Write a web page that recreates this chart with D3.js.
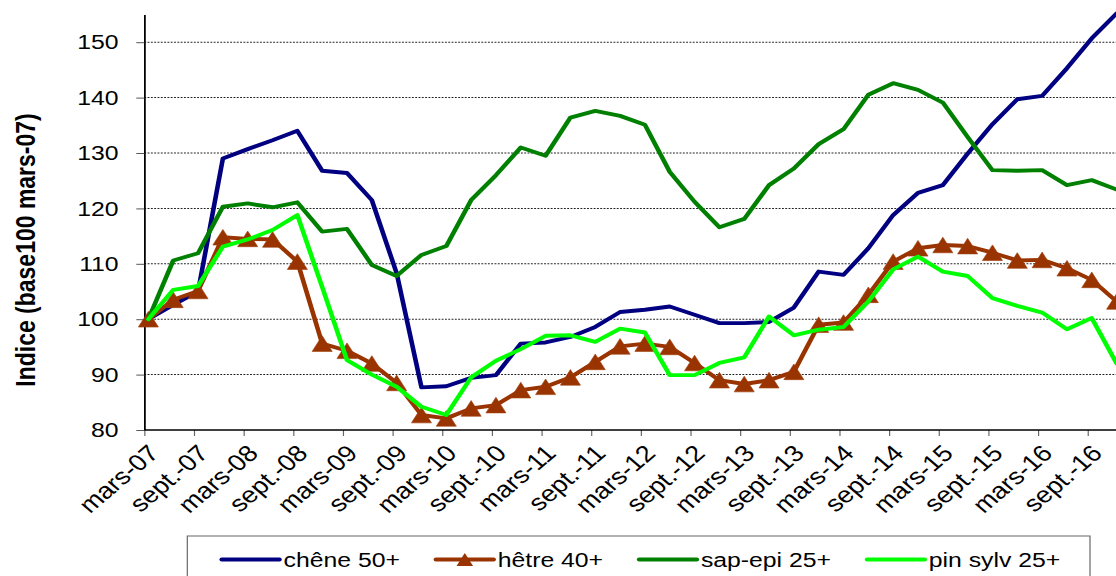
<!DOCTYPE html>
<html>
<head>
<meta charset="utf-8">
<script src="https://cdn.jsdelivr.net/npm/d3@7"></script>
<style>
body { margin: 0; background: #fff; }
svg { display: block; font-family: "Liberation Sans", Arial, sans-serif; }
</style>
</head>
<body>
<svg id="chart" width="1116" height="576"></svg>
<script>
// trimestres, base 100 en mars-07
var periodes = ["mars-07","juin-07","sept.-07","déc.-07","mars-08","juin-08","sept.-08","déc.-08",
  "mars-09","juin-09","sept.-09","déc.-09","mars-10","juin-10","sept.-10","déc.-10",
  "mars-11","juin-11","sept.-11","déc.-11","mars-12","juin-12","sept.-12","déc.-12",
  "mars-13","juin-13","sept.-13","déc.-13","mars-14","juin-14","sept.-14","déc.-14",
  "mars-15","juin-15","sept.-15","déc.-15","mars-16","juin-16","sept.-16","déc.-16"];

var tickLabels = ["mars-07","sept.-07","mars-08","sept.-08","mars-09","sept.-09","mars-10","sept.-10",
  "mars-11","sept.-11","mars-12","sept.-12","mars-13","sept.-13","mars-14","sept.-14",
  "mars-15","sept.-15","mars-16","sept.-16"];

var yTicks = [80, 90, 100, 110, 120, 130, 140, 150];

var chene = [100, 102.6, 105, 129, 130.7, 132.3, 134, 126.8, 126.4, 121.5,
  108.3, 87.7, 87.9, 89.4, 89.9, 95.6, 95.8, 96.8, 98.6, 101.3,
  101.7, 102.3, 100.8, 99.3, 99.3, 99.5, 102.1, 108.6, 108.0, 112.8,
  118.8, 122.8, 124.2, 129.9, 135.2, 139.7, 140.3, 145.3, 150.7, 155.2];

var hetre = [100, 103.5, 105.1, 114.8, 114.5, 114.4, 110.4, 95.6, 94.3, 92.0,
  88.5, 82.7, 82.1, 83.9, 84.5, 87.2, 87.8, 89.5, 92.3, 95.1,
  95.6, 95.0, 92.1, 89.0, 88.3, 89.0, 90.5, 99.0, 99.4, 104.4,
  110.4, 112.8, 113.4, 113.2, 112.0, 110.6, 110.7, 109.2, 107.1, 103.2];

var sapEpi = [100, 110.6, 111.9, 120.3, 120.9, 120.2, 121.1, 115.8, 116.3, 109.8,
  107.8, 111.6, 113.2, 121.5, 126, 131, 129.5, 136.4, 137.6, 136.7,
  135.1, 126.6, 121.2, 116.6, 118.1, 124.2, 127.2, 131.6, 134.3, 140.5,
  142.6, 141.4, 139.1, 132.9, 126.9, 126.8, 126.9, 124.2, 125.1, 123.4];

var pinSylv = [100, 105.3, 106.0, 113.1, 114.4, 116.1, 118.8, 105.8, 92.6, 90.0,
  87.8, 84.2, 82.7, 89.5, 92.5, 94.6, 97.0, 97.1, 95.9, 98.3,
  97.6, 89.9, 89.9, 92.1, 93.1, 100.5, 97.1, 98.1, 98.6, 103.2,
  109.0, 111.3, 108.6, 107.8, 103.8, 102.4, 101.2, 98.2, 100.2, 92.0];

var seriesNames = ["chêne 50+", "hêtre 40+", "sap-epi 25+", "pin sylv 25+"];
var seriesValues = [chene, hetre, sapEpi, pinSylv];
var seriesColors = ["#000080", "#993300", "#008000", "#00ff00"];

// the picture is stretched sideways, so everything is drawn in a squeezed frame
var SX = 1.18;
var svg = d3.select("#chart");
var g = svg.append("g").attr("transform", "scale(" + SX + ",1)");

var plotLeft = 144.3 / SX, plotRight = 1125 / SX;
var xScale = d3.scaleLinear().domain([0, periodes.length - 1]).range([148.4 / SX, 1116.6 / SX]);
var yScale = d3.scaleLinear().domain([80, 155]).range([430, 14.5]);

// ticks sit half a month before the point
var tickPos = tickLabels.map(function(l) { return periodes.indexOf(l) - 1 / 6; });

// grid
g.selectAll(".grid")
  .data(yTicks.filter(function(v) { return v > 80; }))
  .enter().append("line")
    .attr("class", "grid")
    .attr("x1", plotLeft).attr("x2", plotRight)
    .attr("y1", function(d) { return yScale(d); })
    .attr("y2", function(d) { return yScale(d); })
    .attr("stroke", "#222")
    .attr("stroke-width", 1)
    .attr("stroke-dasharray", "1.6,1.2");

// y axis
var yAxis = g.append("g")
  .attr("transform", "translate(" + plotLeft + ",0)")
  .call(d3.axisLeft(yScale).tickValues(yTicks).tickSize(8 / SX).tickSizeOuter(0).tickPadding(15));
yAxis.select(".domain").attr("stroke", "#000").attr("stroke-width", 1.5);
yAxis.selectAll(".tick line").attr("stroke", "#555");
yAxis.selectAll(".tick text")
  .attr("fill", "#000")
  .style("font-size", "21px")
  .style("font-family", "'Liberation Sans', Arial, sans-serif");

// x axis
var xAxis = g.append("g")
  .attr("transform", "translate(0,430)")
  .call(d3.axisBottom(xScale).tickValues(tickPos)
    .tickFormat(function(d, i) { return tickLabels[i]; })
    .tickSize(6).tickSizeOuter(0));
xAxis.select(".domain").remove();
xAxis.append("line")
  .attr("x1", plotLeft).attr("x2", plotRight)
  .attr("stroke", "#000").attr("stroke-width", 1.5);
xAxis.selectAll(".tick line").attr("stroke", "#666");
xAxis.selectAll(".tick text")
  .attr("fill", "#000")
  .attr("x", 0).attr("y", 0).attr("dy", 0)
  .attr("text-anchor", "end")
  .attr("transform", "translate(13.1,24.6)rotate(-45)")
  .style("font-size", "23px")
  .style("font-family", "'Liberation Sans', Arial, sans-serif");

// y title
g.append("text")
  .attr("transform", "translate(" + (35 / SX) + ",250)rotate(-90)")
  .attr("text-anchor", "middle")
  .attr("font-weight", "bold")
  .attr("font-size", "23px")
  .attr("fill", "#000")
  .text("Indice (base100 mars-07)");

// triangle centred on its box, like the spreadsheet marker
var triBox = {
  draw: function(ctx, size) {
    var a = Math.sqrt(size * 4 / Math.sqrt(3)), h = a * 0.92;
    ctx.moveTo(0, -h / 2);
    ctx.lineTo(a / 2, h / 2);
    ctx.lineTo(-a / 2, h / 2);
    ctx.closePath();
  }
};

var line = d3.line()
  .x(function(d, i) { return xScale(i); })
  .y(function(d) { return yScale(d); });

seriesValues.forEach(function(vals, s) {
  g.append("path")
    .datum(vals)
    .attr("fill", "none")
    .attr("stroke", seriesColors[s])
    .attr("stroke-width", 3.9)
    .attr("stroke-linejoin", "round")
    .attr("stroke-linecap", "round")
    .attr("d", line);
  if (s == 1) {
    g.selectAll(".mk")
      .data(vals)
      .enter().append("path")
        .attr("class", "mk")
        .attr("transform", function(d, i) { return "translate(" + xScale(i) + "," + yScale(d) + ")"; })
        .attr("d", d3.symbol().type(triBox).size(125))
        .attr("fill", "#993300")
        .attr("stroke", "#a0410d")
        .attr("stroke-width", 0.6);
  }
});

// legend
var legend = g.append("g");
legend.append("rect")
  .attr("x", 187.3 / SX).attr("y", 536)
  .attr("width", (1090 - 187.3) / SX).attr("height", 60)
  .attr("fill", "#fff")
  .attr("stroke", "#666")
  .attr("stroke-width", 1);

var lx = 221.7 / SX, swatch = 49, gap = 30.5;
seriesNames.forEach(function(name, s) {
  legend.append("line")
    .attr("x1", lx).attr("x2", lx + swatch)
    .attr("y1", 559.5).attr("y2", 559.5)
    .attr("stroke", seriesColors[s])
    .attr("stroke-width", 3.8)
    .attr("stroke-linecap", "round");
  if (s == 1) {
    legend.append("path")
      .attr("transform", "translate(" + (lx + swatch / 2) + ",559.5)")
      .attr("d", d3.symbol().type(triBox).size(85))
      .attr("fill", "#993300");
  }
  var t = legend.append("text")
    .attr("x", lx + swatch + 3.4)
    .attr("y", 567)
    .attr("font-size", "21px")
    .attr("fill", "#000")
    .text(name);
  lx = lx + swatch + 3.4 + t.node().getComputedTextLength() + gap;
});
</script>
</body>
</html>
